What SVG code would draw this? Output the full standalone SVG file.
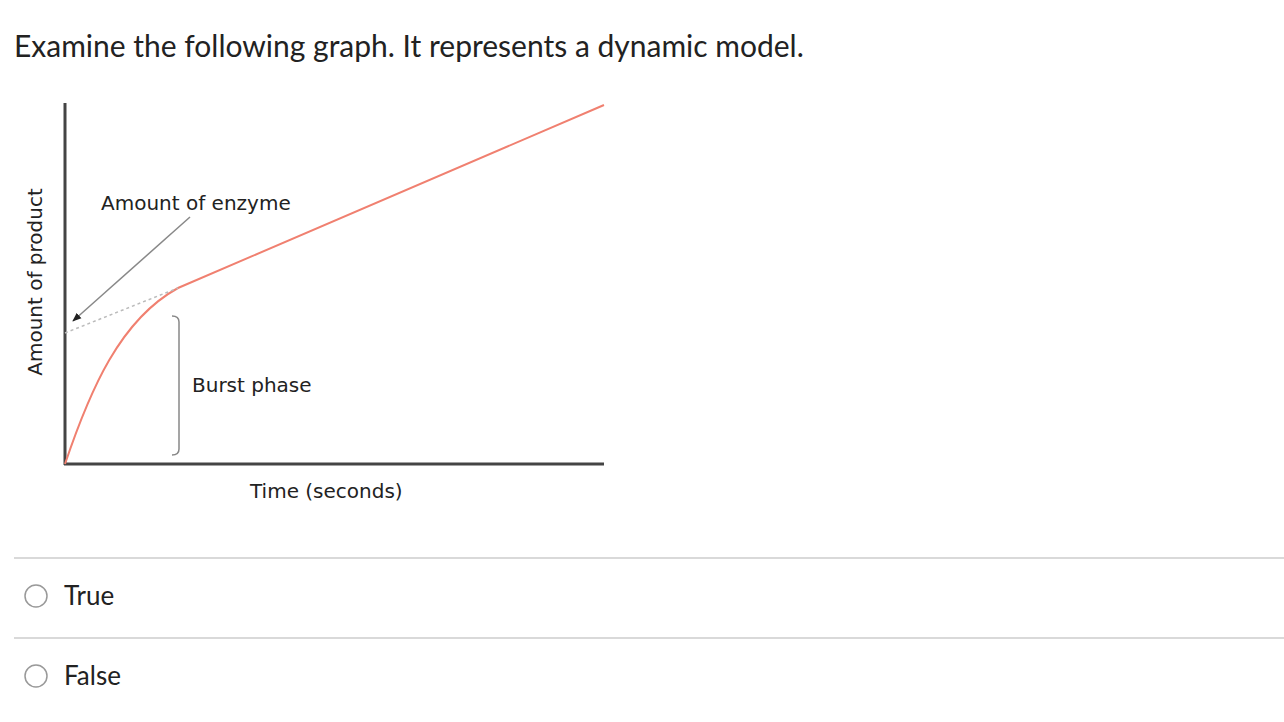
<svg xmlns="http://www.w3.org/2000/svg" width="1284" height="722" viewBox="0 0 1284 722">
<style>
.q{font-family:Lato,"Liberation Sans",sans-serif;fill:#222}
.g{font-family:"DejaVu Sans","Liberation Sans",sans-serif;fill:#222;font-size:20px}
.sep{stroke:#ccc;stroke-width:1.5}
.radio{fill:#fff;stroke:#999;stroke-width:1.5}
</style>
<defs><marker id="ah" viewBox="0 0 10 10" refX="9" refY="5" markerWidth="6" markerHeight="6" orient="auto"><path d="M0,1 L10,5 L0,9 z" fill="#222"/></marker></defs>
<rect width="1284" height="722" fill="#fff"/>
<text class="q" x="14" y="57" font-size="30">Examine the following graph. It represents a dynamic model.</text>
<g id="axes" stroke="#444" stroke-width="3" fill="none">
<line x1="65" y1="103" x2="65" y2="465"/>
<line x1="64" y1="464" x2="604" y2="464"/>
</g>
<g id="connectors" fill="none">
<path d="M65,464 C90,390 120,320 178,288 L604,105" stroke="#f08070" stroke-width="2"/>
<line x1="65" y1="333" x2="178" y2="288" stroke="#bbb" stroke-width="1.5" stroke-dasharray="3,3"/>
<line x1="190" y1="217" x2="73" y2="321" stroke="#888" stroke-width="1.5" marker-end="url(#ah)"/>
<path d="M172,316 Q179,316 179,322 L179,449 Q179,455 172,455" stroke="#888" stroke-width="1.5"/>
</g>
<g id="labels">
<text class="g" x="101" y="210">Amount of enzyme</text>
<text class="g" x="192" y="392">Burst phase</text>
<text class="g" x="250" y="498">Time (seconds)</text>
<text class="g" transform="translate(42,282) rotate(-90)" text-anchor="middle">Amount of product</text>
</g>
<line class="sep" x1="14" y1="558" x2="1284" y2="558"/>
<line class="sep" x1="14" y1="638" x2="1284" y2="638"/>
<g id="opt-true"><circle class="radio" cx="36" cy="596" r="11"/><text class="q" x="64" y="605" font-size="26">True</text></g>
<g id="opt-false"><circle class="radio" cx="36" cy="676" r="11"/><text class="q" x="64" y="685" font-size="26">False</text></g>
</svg>
